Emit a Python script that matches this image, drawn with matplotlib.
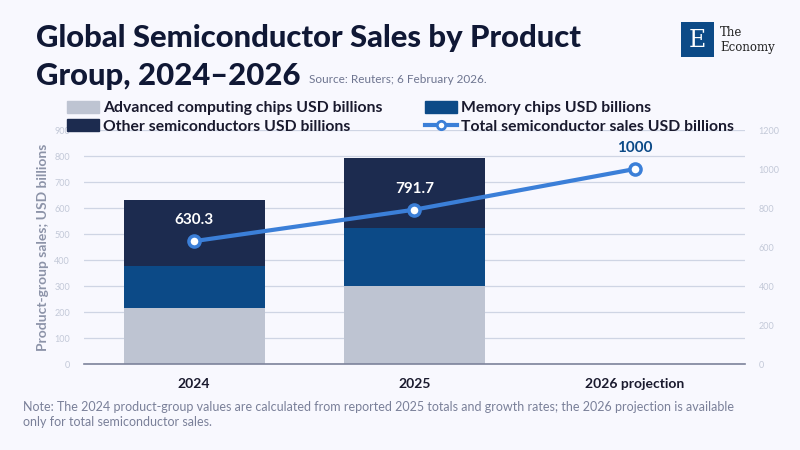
import matplotlib.pyplot as plt
from matplotlib.patches import Rectangle
from matplotlib.lines import Line2D

plt.rcParams['font.family'] = ['Lato', 'DejaVu Sans']

# data
categories = ['2024', '2025', '2026 projection']
advanced = [215, 300]
memory = [163, 222]
other = [252.3, 269.7]
total = [630.3, 791.7, 1000]
total_labels = ['630.3', '791.7', '1000']

c_adv = '#bec4d2'
c_mem = '#0c4a87'
c_oth = '#1c2b4f'
c_line = '#3b7fd8'
bg = '#f8f8fe'

fig = plt.figure(figsize=(8, 4.5), dpi=100, facecolor=bg)
ax = fig.add_axes([0.105, 0.191, 0.826, 0.52])
ax.set_facecolor(bg)

x_bar = list(range(len(advanced)))
w = 0.64
ax.bar(x_bar, advanced, w, color=c_adv, zorder=2)
ax.bar(x_bar, memory, w, bottom=advanced, color=c_mem, zorder=2)
bot2 = [a + m for a, m in zip(advanced, memory)]
ax.bar(x_bar, other, w, bottom=bot2, color=c_oth, zorder=2)

ax.set_xlim(-0.5, 2.5)
ax.set_ylim(0, 900)
ax.set_yticks(range(0, 901, 100))
ax.set_xticks(range(len(categories)))
ax.set_xticklabels(categories, fontsize=10, fontweight='bold', color='#1a1a2e')
ax.tick_params(axis='y', length=0, labelsize=6.5, labelcolor='#c3c9d8', pad=10)
ax.tick_params(axis='x', length=0, pad=10)
ax.grid(axis='y', color='#cfd5e4', linewidth=0.9, zorder=0)
for s in ['top', 'right', 'left']:
    ax.spines[s].set_visible(False)
ax.spines['bottom'].set_color('#7d839b')
ax.spines['bottom'].set_linewidth(1.2)
ax.set_ylabel('Product-group sales; USD billions', fontsize=10, fontweight='bold',
              color='#8c93a8', labelpad=4)

ax2 = ax.twinx()
ax2.set_ylim(0, 1200)
ax2.set_yticks(range(0, 1201, 200))
ax2.tick_params(axis='y', length=0, labelsize=6.5, labelcolor='#c3c9d8', pad=10)
for s in ax2.spines.values():
    s.set_visible(False)
xs = list(range(len(total)))
ax2.plot(xs, total, color=c_line, linewidth=3, marker='o', markersize=8,
         markerfacecolor='white', markeredgecolor=c_line, markeredgewidth=2.5, zorder=3)
for i, (v, t) in enumerate(zip(total, total_labels)):
    col = 'white' if i < len(advanced) else '#0c4a87'
    ax2.annotate(t, (i, v), xytext=(0, 10), textcoords='offset points', ha='center',
                 va='bottom', fontsize=11, fontweight='bold', color=col)

handles = [
    Rectangle((0, 0), 1, 1, color=c_adv),
    Rectangle((0, 0), 1, 1, color=c_oth),
    Rectangle((0, 0), 1, 1, color=c_mem),
    Line2D([0], [0], color=c_line, linewidth=3, marker='o', markersize=6,
           markerfacecolor='white', markeredgecolor=c_line, markeredgewidth=2),
]
labels = ['Advanced computing chips USD billions', 'Other semiconductors USD billions',
          'Memory chips USD billions', 'Total semiconductor sales USD billions']
leg = fig.legend(handles, labels, ncol=2, loc='upper left', bbox_to_anchor=(0.084, 0.776),
                 frameon=False, fontsize=11.3, handlelength=2.0, handleheight=0.8,
                 handletextpad=0.3, columnspacing=2.7, labelspacing=0.25,
                 borderaxespad=0, borderpad=0)
for t in leg.get_texts():
    t.set_fontweight('bold')
    t.set_color('#1a1a2e')

fig.text(0.045, 0.896, 'Global Semiconductor Sales by Product', fontsize=22.3,
         fontweight='black', color='#101835', va='baseline')
fig.text(0.045, 0.811, 'Group, 2024\u20132026', fontsize=22.3,
         fontweight='black', color='#101835', va='baseline')
fig.text(0.386, 0.815, 'Source: Reuters; 6 February 2026.', fontsize=8.5,
         color='#6e7590', va='baseline')

fig.text(0.029, 0.109, 'Note: The 2024 product-group values are calculated from reported 2025 totals '
         'and growth rates; the 2026 projection is available\nonly for total semiconductor sales.',
         fontsize=9, color='#7a8099', va='top', linespacing=1.3)

# logo
fig.patches.append(Rectangle((0.851, 0.873), 0.042, 0.078, transform=fig.transFigure,
                             facecolor='#0c4a87', edgecolor='none'))
fig.text(0.872, 0.911, 'E', fontsize=17, family='DejaVu Serif', color='white',
         ha='center', va='center')
fig.text(0.900, 0.927, 'The', fontsize=8.5, family='DejaVu Serif', color='#222222', va='center')
fig.text(0.900, 0.895, 'Economy', fontsize=8.5, family='DejaVu Serif', color='#222222', va='center')

fig.savefig('out.png', dpi=100, facecolor=bg)
